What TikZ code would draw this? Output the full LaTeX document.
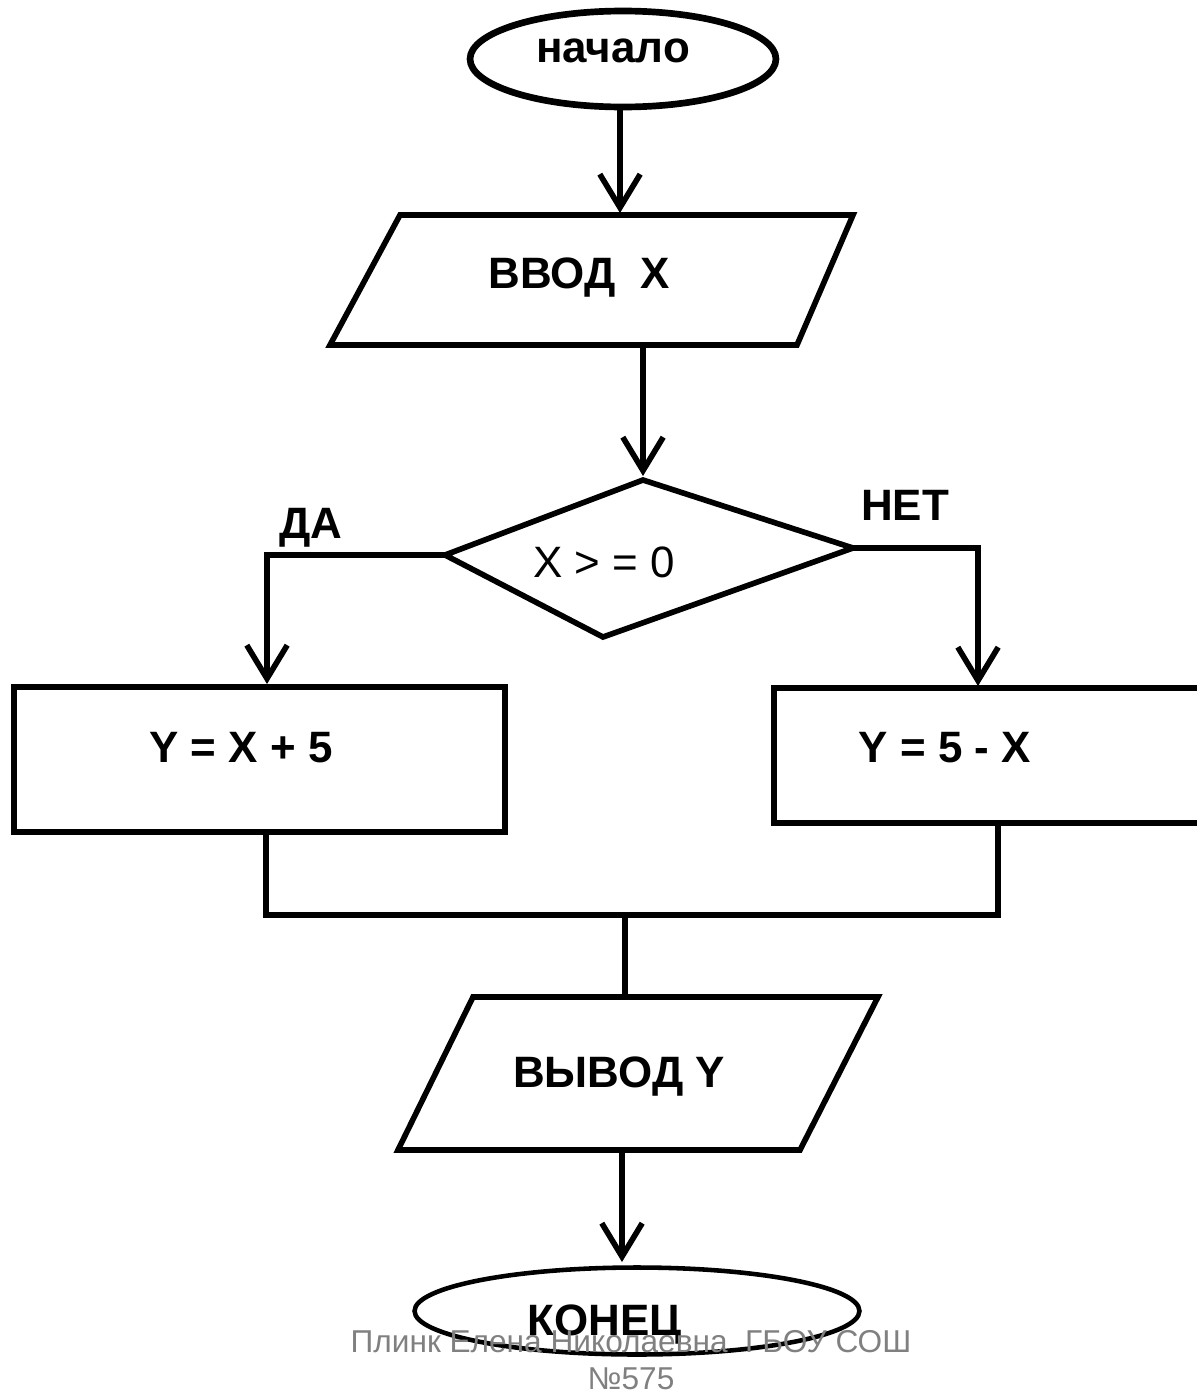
\documentclass[tikz,border=0pt]{standalone}
\usepackage{fontspec}
\setmainfont{Liberation Sans}
\usetikzlibrary{arrows.meta,shapes.geometric}

\tikzset{
  line/.style={line width=3.2pt},
  flow/.style={line, -{Straight Barb[length=19pt,width=23pt]}},
  txt/.style={font=\fontsize{25}{30}\selectfont\bfseries, anchor=base, inner sep=0pt},
  cond/.style={font=\fontsize{25}{30}\selectfont, anchor=base, inner sep=0pt},
  note/.style={font=\fontsize{18}{22}\selectfont, text=gray, anchor=base, inner sep=0pt},
  terminal/.style={ellipse, draw, line, inner sep=0pt, outer sep=0pt},
  process/.style={rectangle, draw, line, inner sep=0pt, outer sep=0pt},
}

\begin{document}
\begin{tikzpicture}[x=0.02cm, y=-0.02cm, line join=miter]
\useasboundingbox (0,0) rectangle (1197,1390);

% start
\node[terminal, line width=3.8pt, minimum width=6.12cm, minimum height=1.92cm] (start) at (623,59) {};
\node[txt] (start-t) at (613,62) {начало};

% input
\coordinate (in-n) at (620,213);
\coordinate (in-s) at (643,345);
\draw[line] (330,345) -- (400,215) -- (853,215) -- (797,345) -- cycle;
\node[txt] (in-t) at (579,288) {ВВОД\ \ X};
\draw[flow] (start.south -| in-n) -- (in-n);

% decision
\coordinate (dec-n) at (643,480);
\coordinate (dec-w) at (445,555);
\coordinate (dec-e) at (853,548);
\draw[line] (dec-w) -- (dec-n) -- (dec-e) -- (603,637) -- cycle;
\node[cond] (dec-t) at (604,577) {X > = 0};
\draw[flow] (in-s) -- (643,476);

\node[txt] (yes-l) at (311,538) {ДА};
\node[txt] (no-l) at (905,520) {НЕТ};

% branches
\node[process, minimum width=9.82cm, minimum height=2.9cm] (yes) at (259.5,759.5) {};
\node[txt] (yes-t) at (241,762) {Y = X + 5};
\node[process, minimum width=8.72cm, minimum height=2.7cm] (no) at (992,755.5) {};
\node[txt] (no-t) at (945,762) {Y = 5 - X};
\draw[flow] (dec-w) -| (267,684);
\draw[flow] (dec-e) -| (978,686);

% join
\coordinate (yes-out) at (266,833);
\coordinate (no-out) at (998,823);
\coordinate (join) at (625,915);
\coordinate (out-n) at (625,997);
\draw[line] (yes-out) |- (join) -| (no-out);
\draw[line] (join) -- (out-n);

% output
\coordinate (out-s) at (622,1150);
\draw[line] (398,1150) -- (473,997) -- (878,997) -- (800,1150) -- cycle;
\node[txt] (out-t) at (619,1087) {ВЫВОД Y};

% end
\node[terminal, line width=2.6pt, minimum width=8.9cm, minimum height=1.74cm] (stop) at (637,1311) {};
\node[txt] (stop-t) at (605,1335) {КОНЕЦ};
\draw[flow] (out-s) -- (622,1262);

\node[note] (sign1) at (631,1352) {Плинк Елена Николаевна\ \ ГБОУ СОШ};
\node[note] (sign2) at (631,1389) {№575};
\end{tikzpicture}
\end{document}
